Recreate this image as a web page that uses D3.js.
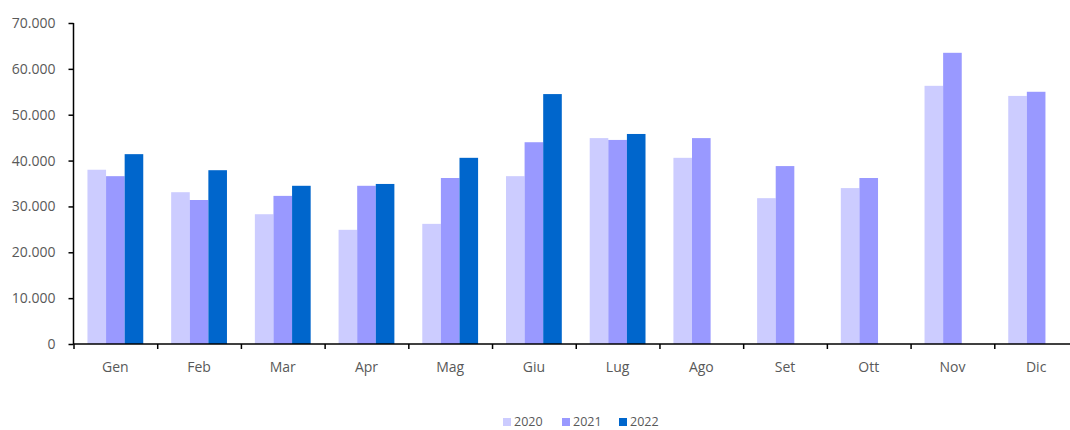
<!DOCTYPE html>
<html>
<head>
<meta charset="utf-8">
<script src="https://cdn.jsdelivr.net/npm/d3@7"></script>
<style>
  html, body { margin: 0; padding: 0; background: #fff; }
  svg { display: block; }
  .axis text, .legend text { fill: #595959; font-family: "Open Sans", "Noto Sans", sans-serif; }
  .axis text { font-size: 14px; }
  .legend text { font-size: 12.5px; }
</style>
</head>
<body>
<svg id="chart" width="1070" height="430"></svg>
<script>
// months and yearly series
const months = ['Gen', 'Feb', 'Mar', 'Apr', 'Mag', 'Giu', 'Lug', 'Ago', 'Set', 'Ott', 'Nov', 'Dic'];
const years = ['2020', '2021', '2022'];
const values2020 = [38000, 33100, 28300, 24900, 26200, 36600, 44900, 40600, 31800, 34000, 56300, 54100];
const values2021 = [36600, 31400, 32300, 34500, 36200, 44000, 44500, 44900, 38800, 36200, 63500, 55000];
const values2022 = [41400, 37900, 34500, 34900, 40600, 54500, 45800, null, null, null, null, null];
const yTicks = [0, 10000, 20000, 30000, 40000, 50000, 60000, 70000];
const colors = ['#ccccff', '#9999ff', '#0066cc'];

const svg = d3.select('#chart');
const margin = { left: 73.5, top: 23, bottom: 344, right: 1078 };

const itLocale = d3.formatLocale({ decimal: ',', thousands: '.', grouping: [3], currency: ['€', ''] });
const fmt = itLocale.format(',');

const series = [values2020, values2021, values2022];
const rows = months.map((m, i) => ({
  month: m,
  vals: years.map((yr, j) => ({ year: yr, value: series[j][i], color: colors[j] }))
}));

const x0 = d3.scaleBand()
  .domain(months)
  .range([margin.left, margin.right])
  .paddingInner(1 / 3)
  .paddingOuter(1 / 6);
const x1 = d3.scaleBand().domain(years).range([0, x0.bandwidth()]);
const y = d3.scaleLinear().domain([0, 70000]).range([margin.bottom, margin.top]);

// bars
const groups = svg.append('g').attr('class', 'bars')
  .selectAll('g')
  .data(rows)
  .join('g')
  .attr('transform', d => `translate(${x0(d.month)},0)`);
groups.selectAll('rect')
  .data(d => d.vals.filter(v => v.value != null))
  .join('rect')
  .attr('x', d => x1(d.year))
  .attr('width', x1.bandwidth())
  .attr('y', d => y(d.value))
  .attr('height', d => y(0) - y(d.value))
  .attr('fill', d => d.color);

// y axis
const yAxis = svg.append('g')
  .attr('class', 'axis y-axis')
  .attr('transform', `translate(${margin.left},0)`)
  .call(d3.axisLeft(y).tickValues(yTicks).tickSize(5).tickPadding(13).tickFormat(fmt));
yAxis.select('.domain').attr('stroke', '#000').attr('stroke-width', 1.5).attr('d', `M0,${margin.top}V${margin.bottom}`);
yAxis.selectAll('.tick line').attr('stroke', '#000').attr('stroke-width', 1.5);

// x axis: boundary ticks plus centered labels
const xb = d3.scaleLinear().domain([0, months.length]).range([margin.left, margin.right]);
const xTickAxis = svg.append('g')
  .attr('class', 'axis x-ticks')
  .attr('transform', `translate(0,${margin.bottom})`)
  .call(d3.axisBottom(xb).tickValues(d3.range(0, months.length + 1)).tickSize(5).tickFormat(''));
xTickAxis.select('.domain').attr('stroke', '#000').attr('stroke-width', 1.5).attr('d', `M${margin.left},0H${margin.right}`);
xTickAxis.selectAll('.tick line').attr('stroke', '#000').attr('stroke-width', 1.5);

const xLabelAxis = svg.append('g')
  .attr('class', 'axis x-labels')
  .attr('transform', `translate(0,${margin.bottom})`)
  .call(d3.axisBottom(x0).tickSize(0).tickPadding(18));
xLabelAxis.select('.domain').remove();

// legend
const legendX = [503, 562, 619];
const legend = svg.append('g').attr('class', 'legend')
  .selectAll('g')
  .data(years)
  .join('g')
  .attr('transform', (d, i) => `translate(${legendX[i]},418)`);
legend.append('rect')
  .attr('width', 8)
  .attr('height', 8)
  .attr('fill', (d, i) => colors[i]);
legend.append('text')
  .attr('x', 11)
  .attr('y', 4)
  .attr('dy', '0.35em')
  .text(d => d);
</script>
</body>
</html>
